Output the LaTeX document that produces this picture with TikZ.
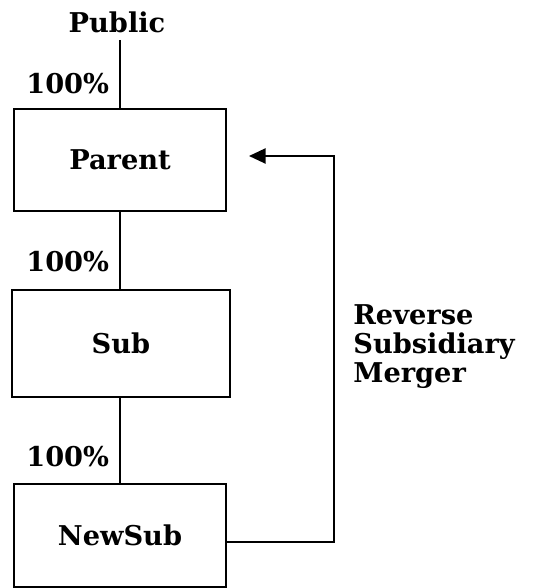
\documentclass[tikz,border=0pt]{standalone}
\usepackage{fontspec}
\setmainfont{DejaVu Serif}
\usepackage{tikz}
\usetikzlibrary{arrows.meta,positioning,calc}
\tikzset{
  >={Triangle[length=3.3mm,width=3mm]},
  % boxes and texts
  ent/.style={draw=black,line width=1.1pt,fill=white,inner sep=0pt,
              minimum width=4.24cm,minimum height=2.04cm,
              font=\fontsize{15.5}{16.5}\selectfont\bfseries},
  hold/.style={draw=black,line width=1.1pt},
  pct/.style={font=\fontsize{15.5}{16.5}\selectfont\bfseries,inner ysep=0pt,
              inner xsep=0.2cm,left,pos=0.64},
  note/.style={font=\fontsize{15.5}{16.5}\selectfont\bfseries,align=left,
               inner sep=0pt,anchor=west},
  merge/.style={->,draw=black,line width=1.1pt},
}
\begin{document}
\begin{tikzpicture}
\useasboundingbox (0,0) rectangle (10.8,-11.76);
  \node[note,anchor=base] (public) at (2.34,-0.66) {Public};
  \node[ent] (parent) at (2.4,-3.2) {Parent};
  \node[ent,minimum width=4.36cm,minimum height=2.14cm] (sub) at (2.42,-6.87) {Sub};
  \node[ent,minimum height=2.06cm] (newsub) at (2.4,-10.71) {NewSub};
  \coordinate (top) at (2.4,-0.8);
  \coordinate (tip) at (4.98,-3.12);
  \draw[hold] (top) -- node[pct] {100\%} (parent.north);
  \draw[hold] (parent.south) -- node[pct] {100\%} (sub.north -| parent.south);
  \draw[hold] (sub.south -| parent.south) -- node[pct,pos=0.69] {100\%} (newsub.north);
  \draw[merge] ([yshift=-0.13cm]newsub.east) -| (6.68,-3.12) -- (tip);
  \node[note] (rsm) at (7.06,-6.94) {Reverse\\Subsidiary\\Merger};
\end{tikzpicture}
\end{document}
